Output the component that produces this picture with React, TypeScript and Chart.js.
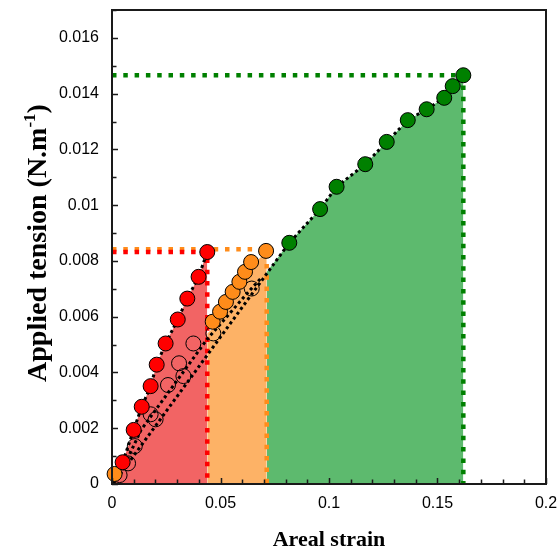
import { useEffect, useRef } from "react";
import { Chart, registerables } from "chart.js";
Chart.register(...registerables);

// ---- data ----
const redStrain = [0.0049, 0.01, 0.0137, 0.0178, 0.0206, 0.0247, 0.0303, 0.0347, 0.0399, 0.0439];
const redTension = [0.00078, 0.00194, 0.00277, 0.00351, 0.00428, 0.00504, 0.0059, 0.00665, 0.00743, 0.00832];

const orangeStrain = [0.0012, 0.0464, 0.0498, 0.0525, 0.0556, 0.0587, 0.0613, 0.0641, 0.071];
const orangeTension = [0.00036, 0.00582, 0.00618, 0.00653, 0.00689, 0.00725, 0.00761, 0.00796, 0.00836];

const greenStrain = [0.0817, 0.0959, 0.1035, 0.1167, 0.1266, 0.1363, 0.145, 0.1531, 0.157, 0.1619];
const greenTension = [0.00865, 0.00986, 0.01066, 0.01147, 0.01227, 0.01305, 0.01344, 0.01385, 0.01427, 0.01466];

const openAStrain = [0.0074, 0.0105, 0.0178, 0.0258, 0.0309, 0.0375, 0.0467, 0.0644];
const openATension = [0.00074, 0.00136, 0.0025, 0.00355, 0.00433, 0.00504, 0.0054, 0.00701];
const openBStrain = [0.0035, 0.0201, 0.0329];
const openBTension = [0.00032, 0.00232, 0.00387];

const fit1Strain = [0.0005, ...redStrain];
const fit1Tension = [0, ...redTension];
const fit2Strain = [0.0035, 0.0134, 0.0442, 0.0645, 0.0691];
const fit2Tension = [0.0003, 0.00194, 0.00523, 0.00703, 0.00742];
const fit3Strain = [0.0005, ...greenStrain];
const fit3Tension = [0, ...greenTension];

const redFillStrain = [0, ...redStrain];
const redFillTension = [0, ...redTension];
const orangeFillStrain = [0.0439, 0.0467, 0.0525, 0.0587, 0.0641, 0.0713];
const orangeFillTension = [0.0054, 0.0056, 0.0063, 0.0071, 0.0078, 0.00834];
const greenFillStrain = [0.0713, ...greenStrain];
const greenFillTension = [0.0076, ...greenTension];

const limitStrain = [0.0439, 0.0713, 0.1619];
const limitTension = [0.00832, 0.00842, 0.01466];

const xTickLabels = [0, 0.05, 0.1, 0.15, 0.2];
const yTickLabels = [0, 0.002, 0.004, 0.006, 0.008, 0.01, 0.012, 0.014, 0.016];

const RED = "#ff0000";
const ORANGE = "#ff8c1a";
const GREEN = "#008000";

const pts = (xs: number[], ys: number[]) => xs.map((x, i) => ({ x, y: ys[i] }));
const fmt = (v: number) => String(Number(Number(v).toFixed(4)));

const TICK_FONT = "'Liberation Sans', Arial, sans-serif";
const TITLE_FONT = "'Liberation Serif', 'Times New Roman', serif";

const framePlugin = {
  id: "frame",
  afterDatasetsDraw(chart: any) {
    const { ctx, chartArea: a, scales } = chart;
    const xs = scales.x;
    const ys = scales.y;
    ctx.save();
    ctx.strokeStyle = "#1a1a1a";
    ctx.lineWidth = 1.5;
    ctx.beginPath();
    for (let i = 0; i <= 20; i++) {
      const v = i * 0.01;
      const px = Math.round(xs.getPixelForValue(v)) + 0.5;
      const len = i % 5 === 0 ? 6 : 4.5;
      ctx.moveTo(px, a.bottom);
      ctx.lineTo(px, a.bottom - len);
    }
    for (let i = 0; i <= 17; i++) {
      const v = i * 0.001;
      const py = Math.round(ys.getPixelForValue(v)) + 0.5;
      const len = i % 2 === 0 ? 6 : 4.5;
      ctx.moveTo(a.left, py);
      ctx.lineTo(a.left + len, py);
    }
    ctx.stroke();
    ctx.lineWidth = 2;
    ctx.strokeStyle = "#1a1a1a";
    ctx.strokeRect(a.left, a.top, a.right - a.left, a.bottom - a.top);
    ctx.restore();
  },
  afterDraw(chart: any) {
    const { ctx, chartArea: a } = chart;
    ctx.save();
    ctx.fillStyle = "#000";
    ctx.font = `bold 22px ${TITLE_FONT}`;
    ctx.textAlign = "center";
    ctx.textBaseline = "alphabetic";
    ctx.fillText("Areal strain", (a.left + a.right) / 2, 546);

    const main = "Applied tension (N.m";
    const sup = "-1";
    const close = ")";
    ctx.font = `bold 28px ${TITLE_FONT}`;
    const w1 = ctx.measureText(main).width;
    const w3 = ctx.measureText(close).width;
    ctx.font = `bold 17px ${TITLE_FONT}`;
    const w2 = ctx.measureText(sup).width;
    const total = w1 + w2 + w3;
    ctx.translate(46, 243);
    ctx.rotate(-Math.PI / 2);
    ctx.textAlign = "left";
    const s = -total / 2;
    ctx.font = `bold 28px ${TITLE_FONT}`;
    ctx.fillText(main, s, 0);
    ctx.font = `bold 17px ${TITLE_FONT}`;
    ctx.fillText(sup, s + w1, -11);
    ctx.font = `bold 28px ${TITLE_FONT}`;
    ctx.fillText(close, s + w1 + w2, 0);
    ctx.restore();
  },
};

const zeroPad = (s: any) => {
  s.paddingTop = 0;
  s.paddingBottom = 0;
  s.paddingLeft = 0;
  s.paddingRight = 0;
};

export default function App() {
  const ref = useRef<HTMLCanvasElement>(null);
  useEffect(() => {
    document.body.style.margin = "0";
    const canvas = ref.current!;
    const pointSet = (xs: number[], ys: number[], bg: string, order: number) => ({
      data: pts(xs, ys),
      showLine: false,
      pointRadius: 7.5,
      pointBorderWidth: 1,
      pointBorderColor: "#000",
      pointBackgroundColor: bg,
      order,
      clip: false as any,
    });
    const lineSet = (xs: number[], ys: number[], color: string, width: number, dash: number[], order: number) => ({
      data: pts(xs, ys),
      showLine: true,
      borderColor: color,
      borderWidth: width,
      borderDash: dash,
      pointRadius: 0,
      fill: false,
      tension: 0,
      order,
    });
    const fillSet = (xs: number[], ys: number[], color: string) => ({
      data: pts(xs, ys),
      showLine: true,
      borderWidth: 0,
      borderColor: "rgba(0,0,0,0)",
      backgroundColor: color,
      pointRadius: 0,
      fill: "origin",
      tension: 0,
      order: 10,
    });
    const limitSet = (i: number, color: string) =>
      lineSet(
        [0, limitStrain[i], limitStrain[i]],
        [limitTension[i], limitTension[i], 0],
        color,
        4.5,
        [4.5, 6.8],
        6
      );

    const chart = new Chart(canvas, {
      type: "line",
      data: {
        datasets: [
          fillSet(redFillStrain, redFillTension, "#f26464"),
          fillSet(orangeFillStrain, orangeFillTension, "#fdb266"),
          fillSet(greenFillStrain, greenFillTension, "#5dba6e"),
          limitSet(2, GREEN),
          limitSet(1, ORANGE),
          { ...limitSet(0, RED), order: 5 },
          lineSet(fit1Strain, fit1Tension, "#000", 3, [3, 3], 4),
          lineSet(fit2Strain, fit2Tension, "#000", 3, [3, 3], 4),
          lineSet(fit3Strain, fit3Tension, "#000", 3, [3, 3], 4),
          pointSet(openBStrain, openBTension, "rgba(0,0,0,0)", 3),
          pointSet(openAStrain, openATension, "rgba(0,0,0,0)", 3),
          pointSet(orangeStrain, orangeTension, ORANGE, 2),
          pointSet(greenStrain, greenTension, GREEN, 1),
          pointSet(redStrain, redTension, RED, 0),
        ] as any,
      },
      options: {
        responsive: false,
        animation: false,
        events: [],
        devicePixelRatio: 1,
        layout: { padding: { left: 0, right: 13, top: 10, bottom: 0 } },
        plugins: { legend: { display: false }, tooltip: { enabled: false } },
        scales: {
          x: {
            type: "linear",
            min: 0,
            max: 0.2,
            afterBuildTicks: (s: any) => {
              s.ticks = xTickLabels.map((v) => ({ value: v }));
            },
            afterFit: (s: any) => {
              s.height = 66;
              zeroPad(s);
            },
            ticks: {
              padding: 10,
              color: "#000",
              font: { family: TICK_FONT, size: 16 },
              maxRotation: 0,
              autoSkip: false,
              callback: (v: any) => fmt(v),
            },
            grid: { display: false, drawTicks: false },
            border: { display: false },
          },
          y: {
            type: "linear",
            min: 0,
            max: 0.017,
            afterBuildTicks: (s: any) => {
              s.ticks = yTickLabels.map((v) => ({ value: v }));
            },
            afterFit: (s: any) => {
              s.width = 112;
              zeroPad(s);
            },
            ticks: {
              padding: 13,
              color: "#000",
              font: { family: TICK_FONT, size: 16 },
              autoSkip: false,
              callback: (v: any) => fmt(v),
            },
            grid: { display: false, drawTicks: false },
            border: { display: false },
          },
        },
      },
      plugins: [framePlugin],
    });
    return () => chart.destroy();
  }, []);
  return (
    <div style={{ width: 559, height: 550 }}>
      <canvas ref={ref} width={559} height={550} style={{ display: "block", width: 559, height: 550 }} />
    </div>
  );
}
